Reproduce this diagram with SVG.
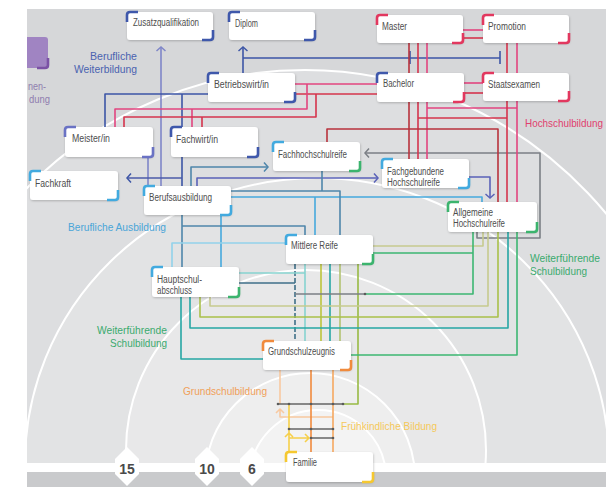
<svg xmlns="http://www.w3.org/2000/svg" width="616" height="487" viewBox="0 0 616 487">
<defs>
<style>
.c{fill:none;stroke-width:1.6;stroke-linejoin:round}
.box{fill:#fff;filter:url(#sh)}
.br{fill:none;stroke-width:2.6}
.t{font-family:"Liberation Sans",Arial,sans-serif;font-size:10px;fill:#4d4d4d}
.lab{font-family:"Liberation Sans",Arial,sans-serif;font-size:11px}
.age{font-family:"Liberation Sans",Arial,sans-serif;font-size:14px;font-weight:bold;fill:#4a4a4a}
.arc{stroke:#fff;stroke-width:2}
.dot{fill:#5a5a5a}
</style>
<filter id="sh" x="-10%" y="-15%" width="125%" height="150%"><feDropShadow dx="0.5" dy="1" stdDeviation="0.9" flood-color="#000" flood-opacity="0.22"/></filter>
<clipPath id="panel"><rect x="27" y="9" width="579" height="454"/></clipPath>
<marker id="m-lav" viewBox="-5 -5 10 10" markerWidth="10" markerHeight="10" markerUnits="userSpaceOnUse" orient="auto"><path d="M-4,-4.5 L0,0 L-4,4.5" fill="none" stroke="#7f86c8" stroke-width="1.5"/></marker>
<marker id="m-blue" viewBox="-5 -5 10 10" markerWidth="10" markerHeight="10" markerUnits="userSpaceOnUse" orient="auto"><path d="M-4,-4.5 L0,0 L-4,4.5" fill="none" stroke="#3d56a6" stroke-width="1.5"/></marker>
<marker id="m-ind" viewBox="-5 -5 10 10" markerWidth="10" markerHeight="10" markerUnits="userSpaceOnUse" orient="auto"><path d="M-4,-4.5 L0,0 L-4,4.5" fill="none" stroke="#5a62b8" stroke-width="1.5"/></marker>
<marker id="m-steel" viewBox="-5 -5 10 10" markerWidth="10" markerHeight="10" markerUnits="userSpaceOnUse" orient="auto"><path d="M-4,-4.5 L0,0 L-4,4.5" fill="none" stroke="#4f86ab" stroke-width="1.5"/></marker>
<marker id="m-gray" viewBox="-5 -5 10 10" markerWidth="10" markerHeight="10" markerUnits="userSpaceOnUse" orient="auto"><path d="M-4,-4.5 L0,0 L-4,4.5" fill="none" stroke="#7b7f85" stroke-width="1.5"/></marker>
</defs>
<rect width="616" height="487" fill="#fff"/>
<g id="background">
<g clip-path="url(#panel)">
<rect x="27" y="9" width="579" height="454" fill="#d6d7d9"/>
<ellipse cx="305" cy="490" rx="400" ry="420" fill="#dddee0" class="arc"/>
<ellipse cx="317" cy="463" rx="292" ry="285" fill="#e2e3e4" class="arc"/>
<circle cx="306" cy="450" r="180" fill="#e8e8e9" class="arc"/>
<circle cx="310" cy="478" r="105" fill="#eeeeee" class="arc"/>
<circle cx="318" cy="478" r="68" fill="#f3f3f3" class="arc"/>
</g>
<rect x="27" y="463" width="579" height="9" fill="#fff"/>
<rect x="27" y="472" width="579" height="15" fill="#c9cacc"/>
<polygon points="127,447 139,459 139,474 127,486 115,474 115,459" fill="#fff"/>
<polygon points="207,447 219,459 219,474 207,486 195,474 195,459" fill="#fff"/>
<polygon points="252,447 264,459 264,474 252,486 240,474 240,459" fill="#fff"/>
<text class="age" x="127" y="474" text-anchor="middle">15</text>
<text class="age" x="207" y="474" text-anchor="middle">10</text>
<text class="age" x="252" y="474" text-anchor="middle">6</text>
</g>
<g id="labels">
<text class="lab" x="90" y="60" fill="#4a62b0" textLength="47" lengthAdjust="spacingAndGlyphs">Berufliche</text>
<text class="lab" x="74" y="73" fill="#4a62b0" textLength="63" lengthAdjust="spacingAndGlyphs">Weiterbildung</text>
<text class="lab" x="68" y="231" fill="#4aa5d8" textLength="98" lengthAdjust="spacingAndGlyphs">Berufliche Ausbildung</text>
<text class="lab" x="525" y="127" fill="#e0406e" textLength="78" lengthAdjust="spacingAndGlyphs">Hochschulbildung</text>
<text class="lab" x="530" y="262" fill="#3aaa6e" textLength="70" lengthAdjust="spacingAndGlyphs">Weiterführende</text>
<text class="lab" x="530" y="275" fill="#3aaa6e" textLength="57" lengthAdjust="spacingAndGlyphs">Schulbildung</text>
<text class="lab" x="97" y="334" fill="#3aaa6e" textLength="70" lengthAdjust="spacingAndGlyphs">Weiterführende</text>
<text class="lab" x="110" y="347" fill="#3aaa6e" textLength="57" lengthAdjust="spacingAndGlyphs">Schulbildung</text>
<text class="lab" x="183" y="395" fill="#f0a05a" textLength="84" lengthAdjust="spacingAndGlyphs">Grundschulbildung</text>
<text class="lab" x="341" y="430" fill="#f5c85a" textLength="96" lengthAdjust="spacingAndGlyphs">Frühkindliche Bildung</text>
<text class="lab" x="28" y="90" fill="#8f7daf" textLength="18" lengthAdjust="spacingAndGlyphs">nen-</text>
<text class="lab" x="29" y="103" fill="#8f7daf" textLength="21" lengthAdjust="spacingAndGlyphs">dung</text>
</g>
<g id="connectors">
<path class="c" stroke="#7f86c8" d="M161,186 V47" marker-end="url(#m-lav)"/>
<path class="c" stroke="#7f86c8" d="M148,157 V186"/>
<path class="c" stroke="#3d56a6" d="M243,73 V47" marker-end="url(#m-blue)"/>
<path class="c" stroke="#3d56a6" d="M243,58 H500 M410,51 V64 M500,51 V64"/>
<path class="c" stroke="#3d56a6" d="M105,127 V94 H208"/>
<path class="c" stroke="#3d56a6" d="M182,186 V94"/>
<path class="c" stroke="#4a5aa8" d="M182,178 H127" marker-end="url(#m-blue)"/>
<path class="c" stroke="#4f86ab" d="M191,186 V167 H268" marker-end="url(#m-steel)"/>
<path class="c" stroke="#5a62b8" d="M197,186 V178 H378" marker-end="url(#m-ind)"/>
<path class="c" stroke="#5a62b8" d="M469,177 H490 V198" marker-end="url(#m-ind)"/>
<path class="c" stroke="#7b7f85" d="M477,232 V238 H540 V153 H365" marker-end="url(#m-gray)"/>
<path class="c" stroke="#e2457f" d="M295,84 H377"/>
<path class="c" stroke="#d5344d" d="M295,94 H377"/>
<path class="c" stroke="#e2457f" d="M307,84 V109 H115 V127 M192,109 V127"/>
<path class="c" stroke="#d5344d" d="M316,94 V117 H124 V127 M202,117 V127"/>
<path class="c" stroke="#e2457f" d="M463,30 H483"/>
<path class="c" stroke="#d5344d" d="M463,38 H483"/>
<path class="c" stroke="#b8323c" d="M409,43 V73"/>
<path class="c" stroke="#d5344d" d="M418,43 V73"/>
<path class="c" stroke="#e2457f" d="M427,43 V73"/>
<path class="c" stroke="#e2457f" d="M464,83 H483"/>
<path class="c" stroke="#d5344d" d="M464,93 H483"/>
<path class="c" stroke="#d5344d" d="M507,43 V73"/>
<path class="c" stroke="#e2457f" d="M517,43 V73"/>
<path class="c" stroke="#b8323c" d="M409,102 V159"/>
<path class="c" stroke="#d5344d" d="M418,102 V159"/>
<path class="c" stroke="#e2457f" d="M427,102 V159"/>
<path class="c" stroke="#e2457f" d="M427,108 H517"/>
<path class="c" stroke="#d5344d" d="M418,118 H507"/>
<path class="c" stroke="#b8323c" d="M327,142 V129 H498 V202"/>
<path class="c" stroke="#d5344d" d="M507,101 V202"/>
<path class="c" stroke="#e2457f" d="M517,101 V202"/>
<path class="c" stroke="#46a9dd" d="M231,197 H482 V202 M315,197 V235"/>
<path class="c" stroke="#46a9dd" d="M221,215 V267"/>
<path class="c" stroke="#4f86ab" d="M322,171 V191 M231,191 H340 V235"/>
<path class="c" stroke="#4f86ab" d="M182,215 V267 M182,226 H305 V235"/>
<path class="c" stroke="#92d2ea" d="M172,267 V243 H286"/>
<path class="c" stroke="#3f6f88" stroke-dasharray="5 2" d="M295,264 V341"/>
<path class="c" stroke="#3f6f88" d="M239,283 H295"/>
<path class="c" stroke="#86d3d0" d="M305,264 V341 M239,273 H305"/>
<path class="c" stroke="#bcc43a" d="M321,264 V341"/>
<path class="c" stroke="#26a6a4" d="M330,264 V341"/>
<path class="c" stroke="#b2c270" d="M340,264 V341"/>
<path class="c" stroke="#98ba44" d="M358,264 V404 H343"/>
<path class="c" stroke="#c6ca8e" d="M373,246 H483 V232"/>
<path class="c" stroke="#3db672" d="M373,253 H473 M473,232 V294 H365"/>
<path class="c" stroke="#7b7f85" stroke-width="1.3" d="M295,294 H365"/>
<path class="c" stroke="#c6ca8e" d="M210,297 V306 H488 V232"/>
<path class="c" stroke="#a9c04a" d="M200,297 V317 H498 V232"/>
<path class="c" stroke="#26a6a4" d="M190,297 V328 H508 V232"/>
<path class="c" stroke="#26a6a4" d="M181,297 V359 H263"/>
<path class="c" stroke="#3db672" d="M351,355 H517 V232"/>
<path class="c" stroke="#f8c9a0" d="M280,370 V404 M333,417 H280 V409 M276,413 L280,409 L284,413"/>
<path class="c" stroke="#f08a3c" d="M311,370 V452"/>
<path class="c" stroke="#f5a860" d="M333,370 V452"/>
<path class="c" stroke="#f6d04a" d="M289,452 V404 M285,437 L289,433 L293,437 M289,438 H309 M305,434 L309,438 L305,442"/>
<path class="c" stroke="#666" stroke-width="1" d="M278,404 H343 M289,429 H333 M311,438 H333"/>
<circle class="dot" cx="278" cy="404" r="1.3"/><circle class="dot" cx="289" cy="404" r="1.3"/><circle class="dot" cx="311" cy="404" r="1.3"/><circle class="dot" cx="333" cy="404" r="1.3"/><circle class="dot" cx="343" cy="404" r="1.3"/>
<circle class="dot" cx="289" cy="429" r="1.3"/><circle class="dot" cx="311" cy="429" r="1.3"/><circle class="dot" cx="333" cy="429" r="1.3"/>
<circle class="dot" cx="311" cy="438" r="1.3"/><circle class="dot" cx="333" cy="438" r="1.3"/>
<circle class="dot" cx="365" cy="294" r="1.3"/>
</g>
<g id="n-purple" clip-path="url(#panel)">
<rect x="18" y="37" width="30" height="31" rx="3" fill="#a084c2"/>
<path class="br" stroke="#7b52a5" d="M37,68 H45 Q48,68 48,65 V58"/>
</g>
<g id="n-zusatz"><rect class="box" x="127" y="12" width="86" height="28" rx="3"/><path class="br" stroke="#3f58ab" d="M127,22 V15 Q127,12 130,12 H138 M202,40 H210 Q213,40 213,37 V30"/><text class="t" x="133" y="26" textLength="66" lengthAdjust="spacingAndGlyphs">Zusatzqualifikation</text></g>
<g id="n-diplom"><rect class="box" x="229" y="12" width="86" height="28" rx="3"/><path class="br" stroke="#3f58ab" d="M229,22 V15 Q229,12 232,12 H240 M304,40 H312 Q315,40 315,37 V30"/><text class="t" x="235" y="27" textLength="23" lengthAdjust="spacingAndGlyphs">Diplom</text></g>
<g id="n-master"><rect class="box" x="377" y="15" width="86" height="28" rx="3"/><path class="br" stroke="#e2385f" d="M377,25 V18 Q377,15 380,15 H388 M452,43 H460 Q463,43 463,40 V33"/><text class="t" x="382" y="30" textLength="25" lengthAdjust="spacingAndGlyphs">Master</text></g>
<g id="n-promotion"><rect class="box" x="483" y="15" width="86" height="28" rx="3"/><path class="br" stroke="#e2385f" d="M483,25 V18 Q483,15 486,15 H494 M558,43 H566 Q569,43 569,40 V33"/><text class="t" x="488" y="30" textLength="38" lengthAdjust="spacingAndGlyphs">Promotion</text></g>
<g id="n-betriebswirt"><rect class="box" x="208" y="73" width="87" height="29" rx="3"/><path class="br" stroke="#3f58ab" d="M208,83 V76 Q208,73 211,73 H219 M284,102 H292 Q295,102 295,99 V92"/><text class="t" x="214" y="88" textLength="55" lengthAdjust="spacingAndGlyphs">Betriebswirt/in</text></g>
<g id="n-bachelor"><rect class="box" x="377" y="73" width="87" height="29" rx="3"/><path class="br" stroke="#3f58ab" d="M377,83 V76 Q377,73 380,73 H388"/><path class="br" stroke="#e2385f" d="M453,102 H461 Q464,102 464,99 V92"/><text class="t" x="383" y="87" textLength="31" lengthAdjust="spacingAndGlyphs">Bachelor</text></g>
<g id="n-staatsexamen"><rect class="box" x="483" y="73" width="86" height="28" rx="3"/><path class="br" stroke="#e2385f" d="M483,83 V76 Q483,73 486,73 H494 M558,101 H566 Q569,101 569,98 V91"/><text class="t" x="488" y="88" textLength="52" lengthAdjust="spacingAndGlyphs">Staatsexamen</text></g>
<g id="n-meister"><rect class="box" x="65" y="127" width="88" height="30" rx="3"/><path class="br" stroke="#6a72c4" d="M65,137 V130 Q65,127 68,127 H76 M142,157 H150 Q153,157 153,154 V147"/><text class="t" x="72" y="142" textLength="38" lengthAdjust="spacingAndGlyphs">Meister/in</text></g>
<g id="n-fachwirt"><rect class="box" x="171" y="127" width="87" height="30" rx="3"/><path class="br" stroke="#3f58ab" d="M171,137 V130 Q171,127 174,127 H182 M247,157 H255 Q258,157 258,154 V147"/><text class="t" x="176" y="143" textLength="42" lengthAdjust="spacingAndGlyphs">Fachwirt/in</text></g>
<g id="n-fhr"><rect class="box" x="273" y="142" width="87" height="29" rx="3"/><path class="br" stroke="#42aadf" d="M273,152 V145 Q273,142 276,142 H284"/><path class="br" stroke="#3cb46e" d="M349,171 H357 Q360,171 360,168 V161"/><text class="t" x="278" y="158" textLength="69" lengthAdjust="spacingAndGlyphs">Fachhochschulreife</text></g>
<g id="n-fachkraft"><rect class="box" x="30" y="171" width="88" height="29" rx="3"/><path class="br" stroke="#42aadf" d="M30,181 V174 Q30,171 33,171 H41 M107,200 H115 Q118,200 118,197 V190"/><text class="t" x="35" y="187" textLength="36" lengthAdjust="spacingAndGlyphs">Fachkraft</text></g>
<g id="n-berufsausbildung"><rect class="box" x="144" y="186" width="87" height="29" rx="3"/><path class="br" stroke="#42aadf" d="M144,196 V189 Q144,186 147,186 H155 M220,215 H228 Q231,215 231,212 V205"/><text class="t" x="149" y="201" textLength="63" lengthAdjust="spacingAndGlyphs">Berufsausbildung</text></g>
<g id="n-fachgebundene"><rect class="box" x="382" y="159" width="87" height="29" rx="3"/><path class="br" stroke="#42aadf" d="M382,169 V162 Q382,159 385,159 H393 M458,188 H466 Q469,188 469,185 V178"/><text class="t" x="387" y="175" textLength="57" lengthAdjust="spacingAndGlyphs">Fachgebundene</text><text class="t" x="387" y="186" textLength="53" lengthAdjust="spacingAndGlyphs">Hochschulreife</text></g>
<g id="n-allgemeine"><rect class="box" x="448" y="202" width="89" height="30" rx="3"/><path class="br" stroke="#3cb46e" d="M448,212 V205 Q448,202 451,202 H459 M526,232 H534 Q537,232 537,229 V222"/><text class="t" x="453" y="216" textLength="40" lengthAdjust="spacingAndGlyphs">Allgemeine</text><text class="t" x="453" y="227" textLength="52" lengthAdjust="spacingAndGlyphs">Hochschulreife</text></g>
<g id="n-mittlere"><rect class="box" x="286" y="235" width="87" height="29" rx="3"/><path class="br" stroke="#42aadf" d="M286,245 V238 Q286,235 289,235 H297"/><path class="br" stroke="#3cb46e" d="M362,264 H370 Q373,264 373,261 V254"/><text class="t" x="291" y="249" textLength="47" lengthAdjust="spacingAndGlyphs">Mittlere Reife</text></g>
<g id="n-hauptschul"><rect class="box" x="152" y="267" width="87" height="30" rx="3"/><path class="br" stroke="#42aadf" d="M152,277 V270 Q152,267 155,267 H163"/><path class="br" stroke="#3cb46e" d="M228,297 H236 Q239,297 239,294 V287"/><text class="t" x="157" y="283" textLength="45" lengthAdjust="spacingAndGlyphs">Hauptschul-</text><text class="t" x="157" y="294" textLength="35" lengthAdjust="spacingAndGlyphs">abschluss</text></g>
<g id="n-grundschul"><rect class="box" x="263" y="341" width="88" height="29" rx="3"/><path class="br" stroke="#f08a3c" d="M263,351 V344 Q263,341 266,341 H274 M340,370 H348 Q351,370 351,367 V360"/><text class="t" x="268" y="355" textLength="67" lengthAdjust="spacingAndGlyphs">Grundschulzeugnis</text></g>
<g id="n-familie"><rect class="box" x="286" y="452" width="87" height="30" rx="3"/><path class="br" stroke="#f5c830" d="M286,462 V455 Q286,452 289,452 H297 M362,482 H370 Q373,482 373,479 V472"/><text class="t" x="293" y="466" textLength="24" lengthAdjust="spacingAndGlyphs">Familie</text></g>
</svg>
